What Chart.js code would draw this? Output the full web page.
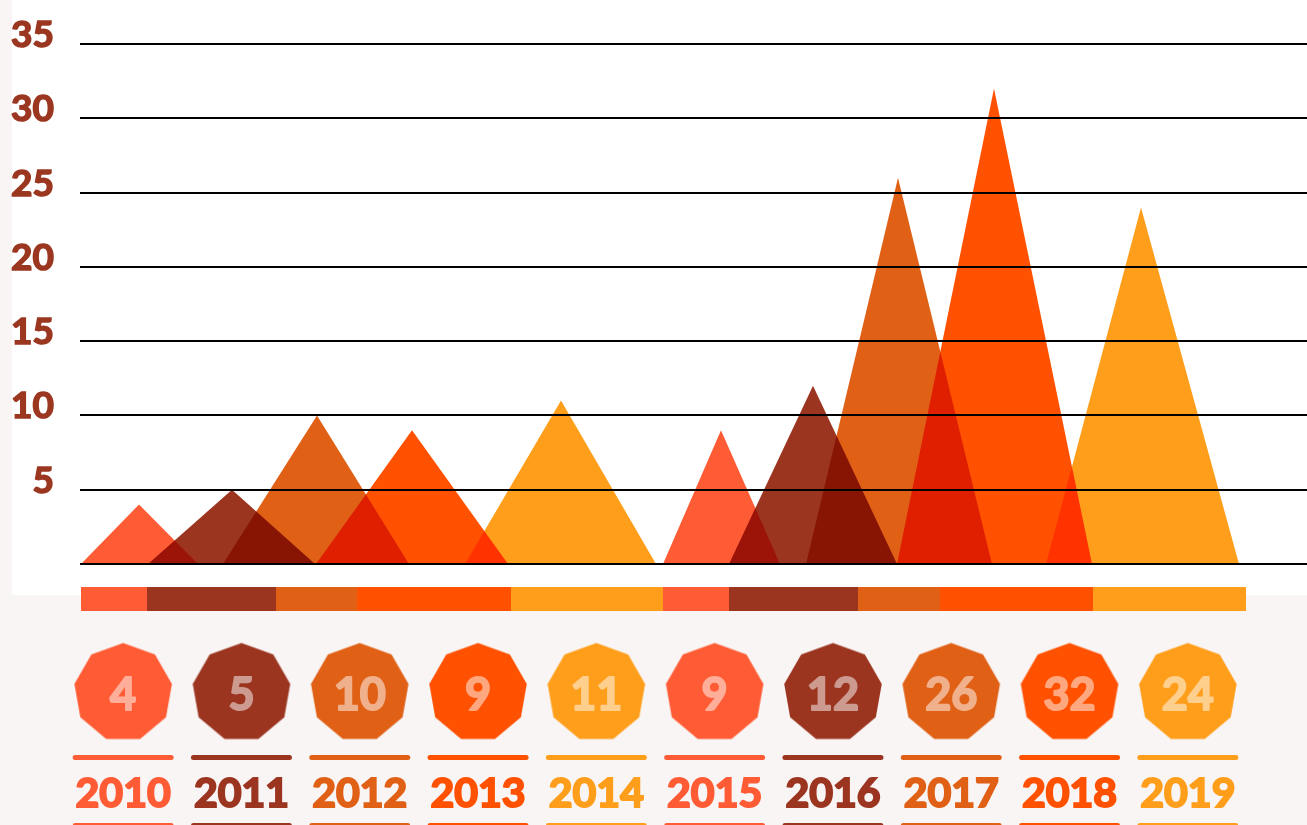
<!DOCTYPE html>
<html>
<head>
<meta charset="utf-8">
<script src="https://cdn.jsdelivr.net/npm/chart.js@4/dist/chart.umd.min.js"></script>
<style>
html,body{margin:0;padding:0;background:#F9F5F4;width:1307px;height:825px;overflow:hidden;}
#panel{position:absolute;left:12px;top:0;width:1295px;height:595px;background:#ffffff;}
#top{position:absolute;left:0;top:0;width:1307px;height:625px;}
#bottom{position:absolute;left:0;top:625px;width:1307px;height:200px;}
</style>
</head>
<body>
<div id="panel"></div>
<canvas id="top" width="1307" height="625"></canvas>
<canvas id="bottom" width="1307" height="200"></canvas>
<script>
// ---- data ----
const years = ['2010','2011','2012','2013','2014','2015','2016','2017','2018','2019'];
const values = [4, 5, 10, 9, 11, 9, 12, 26, 32, 24];
const colors = ['#FF5C35','#9B3520','#E06016','#FF5100','#FF9E1B','#FF5C35','#9B3520','#E06016','#FF5100','#FF9E1B'];
// triangle geometry along the horizontal position axis (0..1227)
const baseStart = [1, 68, 143, 236, 385, 583, 649, 726, 817, 966];
const peakAt    = [59, 152, 237, 332, 481, 641, 733, 818, 914, 1061];
const baseEnd   = [118, 235, 329, 428, 576, 700, 817, 912, 1012, 1159];
// decorative strip below the baseline, segment edges on the same axis
const stripEdges = [1, 67, 196, 277, 431, 583, 649, 778, 860, 1013, 1166];
const yTicks = [0, 5, 10, 15, 20, 25, 30, 35];

const FONT = 'Lato';
const WEIGHT = 'bold';
const AXIS_COLOR = '#9B3720';
Chart.defaults.font.family = FONT;

// 50% white over a solid colour, as an opaque colour
function tint(hex) {
  const n = parseInt(hex.slice(1), 16);
  const r = (n >> 16) & 255, g = (n >> 8) & 255, b = n & 255;
  const m = c => Math.round(c + (255 - c) * 0.5);
  return 'rgb(' + m(r) + ',' + m(g) + ',' + m(b) + ')';
}

const multiplyPlugin = {
  id: 'multiply',
  beforeDatasetsDraw(chart) { chart.ctx.save(); chart.ctx.globalCompositeOperation = 'multiply'; },
  afterDatasetsDraw(chart) { chart.ctx.restore(); }
};

const stripPlugin = {
  id: 'strip',
  afterDraw(chart) {
    const ctx = chart.ctx, xs = chart.scales.x;
    ctx.save();
    for (let i = 0; i < years.length; i++) {
      const x0 = xs.getPixelForValue(stripEdges[i]);
      const x1 = xs.getPixelForValue(stripEdges[i + 1]);
      ctx.fillStyle = colors[i];
      ctx.fillRect(x0, 587, x1 - x0, 24);
    }
    ctx.restore();
  }
};

function nonagon(color) {
  const c = document.createElement('canvas');
  c.width = 102; c.height = 102;
  const g = c.getContext('2d');
  g.fillStyle = color;
  g.beginPath();
  for (let k = 0; k < 9; k++) {
    const a = -Math.PI / 2 + k * 2 * Math.PI / 9;
    const px = 51 + 49.5 * Math.cos(a), py = 51 + 49.5 * Math.sin(a);
    if (k) g.lineTo(px, py); else g.moveTo(px, py);
  }
  g.closePath();
  g.fill();
  return c;
}

const badgePlugin = {
  id: 'badge',
  afterDatasetsDraw(chart) {
    const ctx = chart.ctx;
    const meta = chart.getDatasetMeta(0);
    ctx.save();
    ctx.font = WEIGHT + ' 45px ' + FONT;
    ctx.textAlign = 'center';
    ctx.textBaseline = 'middle';
    ctx.lineWidth = 2;
    ctx.lineJoin = 'round';
    meta.data.forEach((p, i) => {
      const c = tint(colors[i]);
      ctx.fillStyle = c; ctx.strokeStyle = c;
      ctx.strokeText(String(values[i]), p.x, p.y + 3);
      ctx.fillText(String(values[i]), p.x, p.y + 3);
    });
    ctx.restore();
  },
  afterDraw(chart) {
    const ctx = chart.ctx, xs = chart.scales.x;
    ctx.save();
    ctx.lineWidth = 5;
    ctx.lineCap = 'round';
    years.forEach((y, i) => {
      const x = xs.getPixelForValue(i);
      ctx.strokeStyle = colors[i];
      [132.5, 200.5].forEach(yy => {
        ctx.beginPath();
        ctx.moveTo(x - 48, yy);
        ctx.lineTo(x + 48, yy);
        ctx.stroke();
      });
    });
    ctx.restore();
  }
};

function draw() {
  new Chart(document.getElementById('top'), {
    type: 'scatter',
    data: {
      datasets: years.map((yr, i) => ({
        label: yr,
        data: [{x: baseStart[i], y: 0}, {x: peakAt[i], y: values[i]}, {x: baseEnd[i], y: 0}],
        showLine: true,
        fill: 'origin',
        backgroundColor: colors[i],
        borderColor: 'rgba(0,0,0,0)',
        borderWidth: 0,
        pointRadius: 0,
        tension: 0
      }))
    },
    options: {
      responsive: false,
      animation: false,
      events: [],
      layout: { padding: { top: 44, bottom: 61, left: 0, right: 0 } },
      plugins: { legend: { display: false }, tooltip: { enabled: false } },
      scales: {
        x: { type: 'linear', min: 0, max: 1227, display: false },
        y: {
          type: 'linear', min: 0, max: 35,
          afterBuildTicks: s => { s.ticks = yTicks.map(v => ({ value: v })); },
          afterFit: s => { s.width = 80; s.paddingTop = 0; s.paddingBottom = 0; },
          border: { display: false },
          grid: { color: '#000000', lineWidth: 2, drawTicks: false, z: 1 },
          ticks: {
            callback: v => (v === 0 ? '' : String(v)),
            color: AXIS_COLOR,
            textStrokeColor: AXIS_COLOR,
            textStrokeWidth: 1.5,
            font: { size: 37, weight: WEIGHT, family: FONT },
            padding: 26,
            labelOffset: -9
          }
        }
      }
    },
    plugins: [multiplyPlugin, stripPlugin]
  });

  new Chart(document.getElementById('bottom'), {
    type: 'line',
    data: {
      labels: years,
      datasets: [{
        data: years.map(y => ({ x: y, y: 'badge' })),
        showLine: false,
        pointStyle: colors.map(c => nonagon(c)),
        pointRadius: 10,
        clip: false
      }]
    },
    options: {
      responsive: false,
      animation: false,
      events: [],
      layout: { padding: { top: 18, bottom: 0, left: 64, right: 60 } },
      plugins: { legend: { display: false }, tooltip: { enabled: false } },
      scales: {
        x: {
          type: 'category', offset: true,
          afterFit: s => { s.height = 83; },
          border: { display: false },
          grid: { display: false, drawTicks: false },
          ticks: {
            color: c => colors[c.index],
            textStrokeColor: c => colors[c.index],
            textStrokeWidth: 2,
            font: { size: 41, weight: WEIGHT, family: FONT },
            padding: 27,
            maxRotation: 0, autoSkip: false
          }
        },
        y: { type: 'category', labels: ['badge'], offset: true, display: false }
      }
    },
    plugins: [badgePlugin]
  });
}

if (document.fonts && document.fonts.load) {
  Promise.all([document.fonts.load('bold 40px Lato')]).then(draw, draw);
} else { draw(); }
</script>
</body>
</html>
